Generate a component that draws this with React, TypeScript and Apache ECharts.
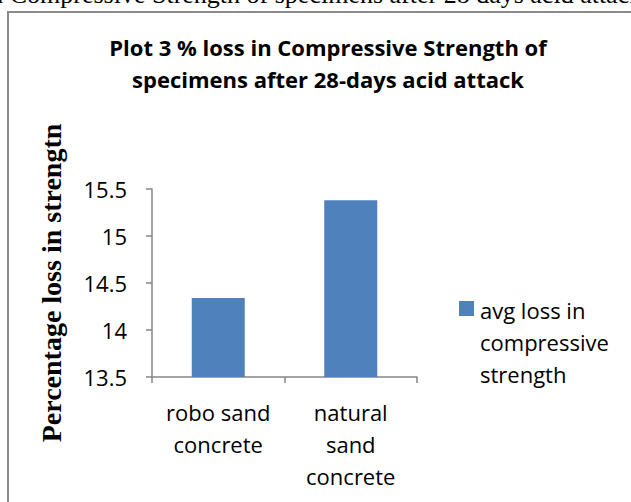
import React, { useEffect, useRef } from "react";
import * as echarts from "echarts";

const categories = ["robo sand\nconcrete", "natural\nsand\nconcrete"];
const seriesName = "avg loss in compressive strength";
const values = [14.34, 15.38];
const yTicks = { min: 13.5, max: 15.5, interval: 0.5 };
const titleText = "Plot 3 % loss in Compressive Strength of\nspecimens after 28-days acid attack";
const yAxisName = "Percentage loss in strengtn";
const captionText = "in Compressive Strength of specimens after 28 days acid attack";

export default function App() {
  const ref = useRef<HTMLDivElement>(null);
  useEffect(() => {
    if (!ref.current) return;
    const chart = echarts.init(ref.current, null, { renderer: "svg" });
    const sans = "'Open Sans', sans-serif";
    const serif = "'Liberation Serif', 'Times New Roman', serif";
    chart.setOption({
      animation: false,
      backgroundColor: "#ffffff",
      title: {
        text: titleText,
        left: 328,
        top: 31,
        padding: 0,
        textAlign: "center",
        textStyle: {
          fontFamily: sans,
          fontWeight: "bold",
          fontSize: 22,
          lineHeight: 32,
          color: "#000000",
        },
      },
      graphic: [
        {
          type: "rect",
          shape: { x: 8, y: 12, width: 700, height: 600 },
          style: { fill: "none", stroke: "#8c8c8c", lineWidth: 2 },
          silent: true,
          z: -1,
        },
        {
          type: "text",
          x: -17,
          y: 7,
          style: {
            text: captionText,
            font: "26px " + serif,
            fill: "#000000",
            verticalAlign: "bottom",
          },
        },
      ],
      legend: {
        orient: "vertical",
        left: 459,
        top: 294,
        padding: 0,
        itemWidth: 15,
        itemHeight: 82,
        itemGap: 0,
        icon: "path://M0,0h15v15h-15z M0,82h0.01v0.01h-0.01z",
        data: [seriesName],
        formatter: () => "avg loss in\ncompressive\nstrength",
        textStyle: {
          fontFamily: sans,
          fontSize: 22,
          lineHeight: 32,
          color: "#000000",
          padding: [0, 0, 0, 1],
        },
      },
      grid: { left: 152, top: 189, width: 265, height: 188, containLabel: false },
      xAxis: {
        type: "category",
        data: categories,
        axisLine: { lineStyle: { color: "#868686", width: 1.5 } },
        axisTick: { show: true, length: 6, alignWithLabel: false, lineStyle: { color: "#868686", width: 1.5 } },
        axisLabel: {
          interval: 0,
          margin: 19,
          fontFamily: sans,
          fontSize: 22,
          lineHeight: 32,
          color: "#000000",
        },
      },
      yAxis: {
        type: "value",
        min: yTicks.min,
        max: yTicks.max,
        interval: yTicks.interval,
        name: yAxisName,
        nameLocation: "middle",
        nameGap: 87,
        nameRotate: 90,
        nameTextStyle: {
          fontFamily: serif,
          fontWeight: "bold",
          fontSize: 28,
          color: "#000000",
        },
        axisLine: { show: true, lineStyle: { color: "#868686", width: 1.5 } },
        axisTick: { show: true, length: 6, lineStyle: { color: "#868686", width: 1.5 } },
        splitLine: { show: false },
        axisLabel: {
          margin: 25,
          fontFamily: sans,
          fontSize: 22,
          color: "#000000",
        },
      },
      series: [
        {
          name: seriesName,
          type: "bar",
          data: values,
          barWidth: "40%",
          itemStyle: { color: "#4f81bd" },
        },
      ],
    });
    return () => chart.dispose();
  }, []);
  return (
    <div
      ref={ref}
      style={{ position: "fixed", left: 0, top: 0, width: 631, height: 502 }}
    />
  );
}
